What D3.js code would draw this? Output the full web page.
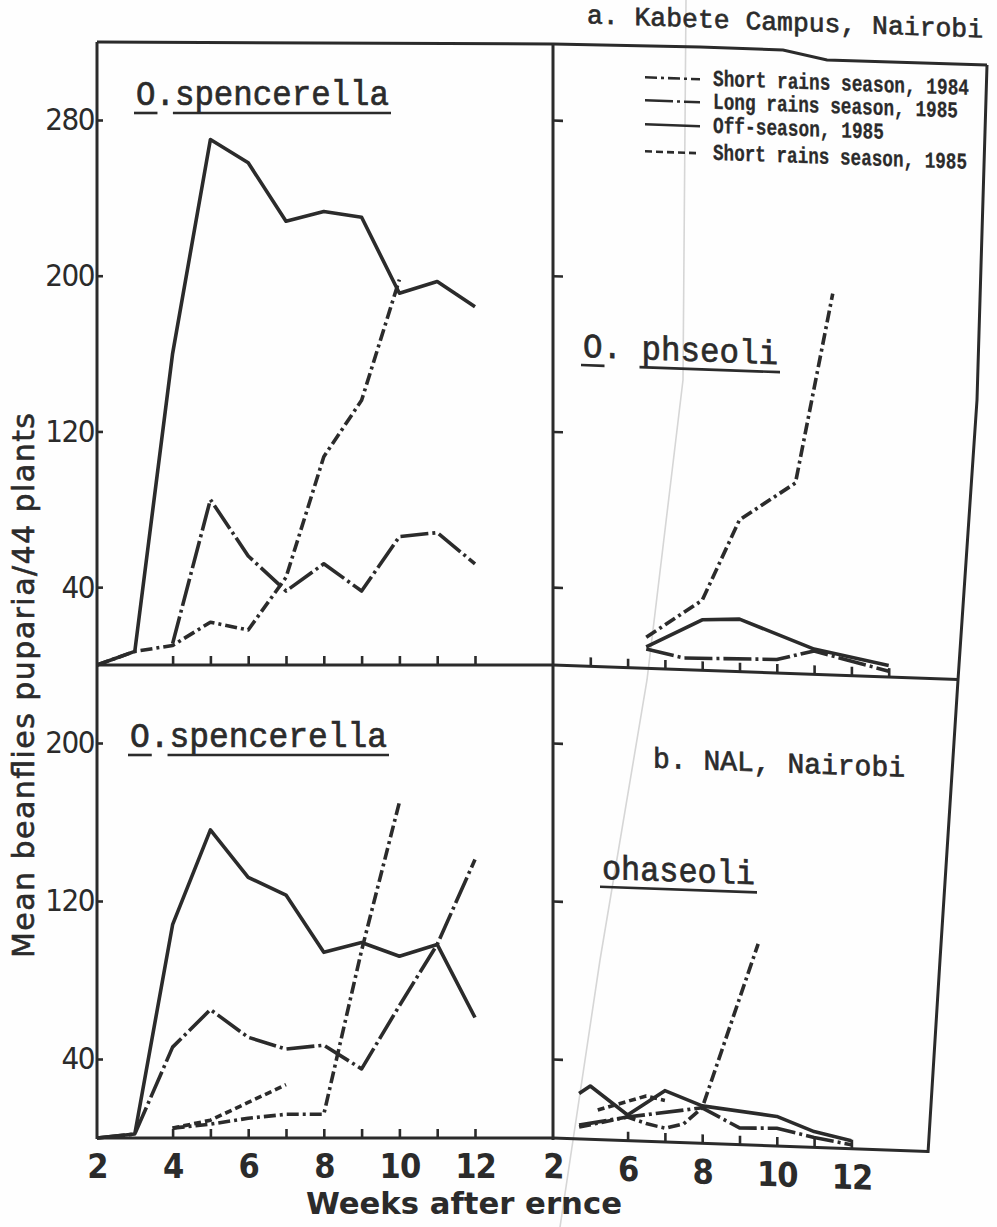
<!DOCTYPE html>
<html>
<head>
<meta charset="utf-8">
<script src="https://cdn.jsdelivr.net/npm/d3@7"></script>
<style>
  html, body { margin: 0; padding: 0; background: #fefefe; }
  svg { display: block; }
</style>
</head>
<body>
<svg id="chart" width="997" height="1227"></svg>
<script>
// ---------------------------------------------------------------
// Mean beanfly puparia per 44 plants, by week after emergence
// ---------------------------------------------------------------
const weeksLeft = [2, 3, 4, 5, 6, 7, 8, 9, 10, 11, 12];

// a. Kabete Campus, O. spencerella
const kabeteSpencerellaShort84 = [0, 7, 10, 22, 18, 45, 107, 136, 198, null, null];
const kabeteSpencerellaLong85  = [null, null, 11, 85, 56, 38, 52, 38, 66, 68, 52];
const kabeteSpencerellaOff85   = [0, 7, 160, 270, 258, 228, 233, 230, 191, 197, 184];

// b. NAL, O. spencerella
const nalSpencerellaShort84 = [null, null, 5, 7, 10, 12, 12, 95, 170, null, null];
const nalSpencerellaLong85  = [0, 2, 46, 65, 51, 45, 47, 35, 67, 98, 141];
const nalSpencerellaOff85   = [0, 2, 108, 156, 132, 123, 94, 99, 92, 98, 61];
const nalSpencerellaShort85 = [null, null, 5, 9, 18, 27, null, null, null, null, null];

// a. Kabete Campus, O. phaseoli (sampling weeks per season)
const kabetePhaseoliShort84Weeks = [6.5, 8, 9, 10.5, 11.5];
const kabetePhaseoliShort84      = [16, 36, 78, 98, 196];
const kabetePhaseoliLong85Weeks  = [6.5, 7.5, 10, 11, 13];
const kabetePhaseoliLong85       = [10, 6, 7, 12, 3];
const kabetePhaseoliOff85Weeks   = [6.5, 8, 9, 11, 13];
const kabetePhaseoliOff85        = [11, 26, 27, 13, 6];

// b. NAL, O. phaseoli
const nalPhaseoliShort84Weeks = [4.7, 6, 6.5, 7, 7.5, 8, 9.5];
const nalPhaseoliShort84      = [6, 12, 9, 7, 9.5, 18, 102];
const nalPhaseoliLong85Weeks  = [4.7, 6, 8, 9, 10, 11, 12];
const nalPhaseoliLong85       = [7, 12, 18, 8.5, 9, 5, 2];
const nalPhaseoliOff85Weeks   = [4.7, 5, 6, 7, 8, 10, 11, 12];
const nalPhaseoliOff85        = [23, 27, 13, 26, 19, 15, 8, 4];
const nalPhaseoliShort85Weeks = [5.2, 6.5, 7];
const nalPhaseoliShort85      = [15, 23, 21];

const seasonLabels = [
  "Short rains season, 1984",
  "Long rains season, 1985",
  "Off-season, 1985",
  "Short rains season, 1985"
];

const yTickValuesTop    = [40, 120, 200, 280];
const yTickValuesBottom = [40, 120, 200];
const xTickValuesLeft   = [2, 4, 6, 8, 10, 12];
const xTickLabelsLeft   = ["2", "4", "6", "8", "10", "12"];
const xTickValuesRight  = [4, 6, 8, 10, 12];
const xTickLabelsRight  = ["2", "6", "8", "10", "12"];
const xMinorLeft        = [4, 5, 6, 7, 8, 9, 10, 11, 12];
const xMinorRightTop    = [5, 6, 7, 8, 9, 10, 11, 12, 13];
const xMinorRightBottom = [6, 7, 8, 9, 10, 11, 12];

// ---------------------------------------------------------------
// layout
// ---------------------------------------------------------------
const ink = "#2b2b2b";
const mono = "'Liberation Mono', 'DejaVu Sans Mono', monospace";
const narrow = "'Liberation Sans Narrow', 'DejaVu Sans Condensed', sans-serif";
const xAxisLeft = 97, xDivider = 553;
const shear = 0.036;                       // the right-hand sheet sits slightly skewed
const rightEdgeTop = 958, rightEdgeBottom = 928;

const xL = d3.scaleLinear().domain([2, 12]).range([xAxisLeft, 475]);
const xR = d3.scaleLinear().domain([4, 13]).range([xDivider, xDivider + 9 * 37.3]);
const yT = d3.scaleLinear().domain([0, 280]).range([665, 120]);
const yB = d3.scaleLinear().domain([0, 200]).range([1138, 743]);

// one dash style per season
const dashes = ["12,4,3,4", "28,4,3,4", null, "7,4"];

const svg = d3.select("#chart");
svg.append("rect").attr("width", 997).attr("height", 1227).attr("fill", "#fefefe");

// faint crease across the right-hand sheet
svg.append("path")
  .attr("d", d3.line()([[686, 0], [683, 380], [647, 680], [600, 960], [560, 1227]]))
  .attr("fill", "none").attr("stroke", "#d6d6d6").attr("stroke-width", 1.6);

const gL = svg.append("g");
const gR = svg.append("g")
  .attr("transform", `matrix(1,${shear},0,1,0,${-shear * xDivider})`);

const line = (x, y) => d3.line()
  .defined(d => d[1] != null)
  .x(d => x(d[0])).y(d => y(d[1]));

function drawSeries(g, x, y, weeks, values, season) {
  const pts = weeks.map((w, i) => [w, values[i]]);
  g.append("path")
    .attr("d", line(x, y)(pts))
    .attr("fill", "none")
    .attr("stroke", ink)
    .attr("stroke-width", 3.6)
    .attr("stroke-linejoin", "round")
    .attr("stroke-dasharray", dashes[season]);
}

// ---------------------------------------------------------------
// frame
// ---------------------------------------------------------------
const frame = svg.append("g").attr("fill", "none").attr("stroke", ink).attr("stroke-width", 3);
frame.append("path").attr("d", d3.line()([[xAxisLeft, 42], [xDivider, 44], [700, 47], [783, 50], [827, 60], [987, 65]]));
frame.append("path").attr("d", d3.line()([[987, 65], [977, 400], [958, 680], [940, 960], [928, 1153]]));
frame.append("line").attr("x1", xAxisLeft).attr("x2", xAxisLeft).attr("y1", 42).attr("y2", yB(0) + 1);
frame.append("line").attr("x1", xDivider).attr("x2", xDivider).attr("y1", 44).attr("y2", yB(0) + 2);
frame.append("line").attr("x1", xAxisLeft).attr("x2", xDivider).attr("y1", yT(0)).attr("y2", yT(0));
frame.append("line").attr("x1", xAxisLeft).attr("x2", xDivider).attr("y1", yB(0)).attr("y2", yB(0));
gR.append("line").attr("x1", xDivider).attr("x2", rightEdgeTop).attr("y1", yT(0)).attr("y2", yT(0))
  .attr("stroke", ink).attr("stroke-width", 3);
gR.append("line").attr("x1", xDivider).attr("x2", rightEdgeBottom).attr("y1", yB(0)).attr("y2", yB(0))
  .attr("stroke", ink).attr("stroke-width", 3);

// ---------------------------------------------------------------
// axes
// ---------------------------------------------------------------
function styleAxis(sel) {
  sel.select(".domain").remove();
  sel.selectAll(".tick line").attr("stroke", ink).attr("stroke-width", 2.6);
  sel.selectAll(".tick text").attr("fill", ink);
}

// y tick labels, left spine
[[yT, yTickValuesTop], [yB, yTickValuesBottom]].forEach(([y, vals]) => {
  gL.append("g")
    .attr("transform", `translate(${xAxisLeft},0)`)
    .call(d3.axisLeft(y).tickValues(vals).tickSize(-6).tickPadding(3))
    .call(styleAxis)
    .call(s => s.selectAll(".tick text")
      .attr("font-family", narrow).attr("font-size", 31).attr("letter-spacing", -1.5));
});
// matching ticks on the divider
[[yT, yTickValuesTop], [yB, yTickValuesBottom]].forEach(([y, vals]) => {
  gR.append("g")
    .attr("transform", `translate(${xDivider},0)`)
    .call(d3.axisRight(y).tickValues(vals).tickSize(10).tickFormat(""))
    .call(styleAxis);
});

// small week ticks standing on each baseline
[[gL, xL, yT, xMinorLeft], [gL, xL, yB, xMinorLeft],
 [gR, xR, yT, xMinorRightTop], [gR, xR, yB, xMinorRightBottom]].forEach(([g, x, y, vals]) => {
  g.append("g")
    .attr("transform", `translate(0,${y(0)})`)
    .call(d3.axisTop(x).tickValues(vals).tickSize(9).tickFormat(""))
    .call(styleAxis);
});

// week labels along the bottom
[[gL, xL, xTickValuesLeft, xTickLabelsLeft], [gR, xR, xTickValuesRight, xTickLabelsRight]]
  .forEach(([g, x, vals, labels]) => {
    g.append("g")
      .attr("transform", `translate(0,${yB(0)})`)
      .call(d3.axisBottom(x).tickValues(vals).tickSize(0).tickPadding(16)
        .tickFormat((d, i) => labels[i]))
      .call(styleAxis)
      .call(s => s.selectAll(".tick text")
        .attr("font-family", narrow).attr("font-weight", "bold")
        .attr("font-size", 34).attr("letter-spacing", -1));
  });

// axis titles
svg.append("text")
  .attr("transform", "translate(34,958) rotate(-90)")
  .attr("font-family", "'DejaVu Sans', sans-serif").attr("font-size", 30)
  .attr("fill", ink).attr("stroke", ink).attr("stroke-width", 0.6)
  .attr("textLength", 545).attr("lengthAdjust", "spacing")
  .text("Mean beanflies puparia/44 plants");

svg.append("text")
  .attr("x", 306).attr("y", 1214)
  .attr("font-family", "'DejaVu Sans Condensed', 'Liberation Sans Narrow', sans-serif")
  .attr("font-weight", "bold").attr("font-size", 30)
  .attr("fill", ink)
  .attr("textLength", 316).attr("lengthAdjust", "spacingAndGlyphs")
  .text("Weeks  after  ernce");

// ---------------------------------------------------------------
// series
// ---------------------------------------------------------------
drawSeries(gL, xL, yT, weeksLeft, kabeteSpencerellaShort84, 0);
drawSeries(gL, xL, yT, weeksLeft, kabeteSpencerellaLong85, 1);
drawSeries(gL, xL, yT, weeksLeft, kabeteSpencerellaOff85, 2);

drawSeries(gL, xL, yB, weeksLeft, nalSpencerellaShort84, 0);
drawSeries(gL, xL, yB, weeksLeft, nalSpencerellaLong85, 1);
drawSeries(gL, xL, yB, weeksLeft, nalSpencerellaOff85, 2);
drawSeries(gL, xL, yB, weeksLeft, nalSpencerellaShort85, 3);

drawSeries(gR, xR, yT, kabetePhaseoliShort84Weeks, kabetePhaseoliShort84, 0);
drawSeries(gR, xR, yT, kabetePhaseoliLong85Weeks, kabetePhaseoliLong85, 1);
drawSeries(gR, xR, yT, kabetePhaseoliOff85Weeks, kabetePhaseoliOff85, 2);

drawSeries(gR, xR, yB, nalPhaseoliShort84Weeks, nalPhaseoliShort84, 0);
drawSeries(gR, xR, yB, nalPhaseoliLong85Weeks, nalPhaseoliLong85, 1);
drawSeries(gR, xR, yB, nalPhaseoliOff85Weeks, nalPhaseoliOff85, 2);
drawSeries(gR, xR, yB, nalPhaseoliShort85Weeks, nalPhaseoliShort85, 3);

// ---------------------------------------------------------------
// typed captions (typewriter face, slightly tall)
// ---------------------------------------------------------------
function typed(g, str, x, y, size, len, opts = {}) {
  const sy = opts.stretch || 1;
  const holder = g.append("g").attr("transform", `translate(${x},${y}) scale(1,${sy})`);
  const t = holder.append("text")
    .attr("x", 0).attr("y", 0)
    .attr("font-family", mono).attr("font-size", size)
    .attr("font-weight", opts.bold ? "bold" : "normal")
    .attr("fill", ink).attr("stroke", ink).attr("stroke-width", opts.bold ? 0.2 : 0.6)
    .attr("textLength", len).attr("lengthAdjust", "spacingAndGlyphs")
    .text(str);
  (opts.underline || []).forEach(([a, b]) => {
    const node = t.node();
    const x1 = x + node.getStartPositionOfChar(a).x - 2;
    const x2 = x + node.getEndPositionOfChar(b).x + 2;
    g.append("line")
      .attr("x1", x1).attr("x2", x2)
      .attr("y1", y + 8).attr("y2", y + 8)
      .attr("stroke", ink).attr("stroke-width", 2.6);
  });
  return t;
}

typed(gL, "O.spencerella", 136, 105, 31, 253, { stretch: 1.12, underline: [[0, 0], [2, 12]] });
typed(gL, "O.spencerella", 130, 747, 31, 257, { stretch: 1.12, underline: [[0, 0], [2, 12]] });
typed(gR, "O. phseoli", 583, 356, 31, 195, { stretch: 1.1, underline: [[0, 0], [3, 9]] });
typed(gR, "ohaseoli", 602, 877, 31, 153, { stretch: 1.1, underline: [[0, 7]] });
typed(gR, "a.  Kabete Campus, Nairobi", 587, 22, 25, 396, { stretch: 1.05 });
typed(gR, "b.  NAL, Nairobi", 653, 764, 26, 252, { stretch: 1.1 });

// legend
const legendBaselines = [80, 103, 127, 154];
const legendLengths = [256, 245, 171, 254];
seasonLabels.forEach((label, i) => {
  const yb = legendBaselines[i];
  gR.append("line")
    .attr("x1", 645).attr("x2", 700)
    .attr("y1", yb - 6).attr("y2", yb - 6)
    .attr("stroke", ink).attr("stroke-width", 2.6)
    .attr("stroke-dasharray", dashes[i]);
  typed(gR, label, 713, yb, 17.5, legendLengths[i], { bold: true, stretch: 1.3 });
});
</script>
</body>
</html>
